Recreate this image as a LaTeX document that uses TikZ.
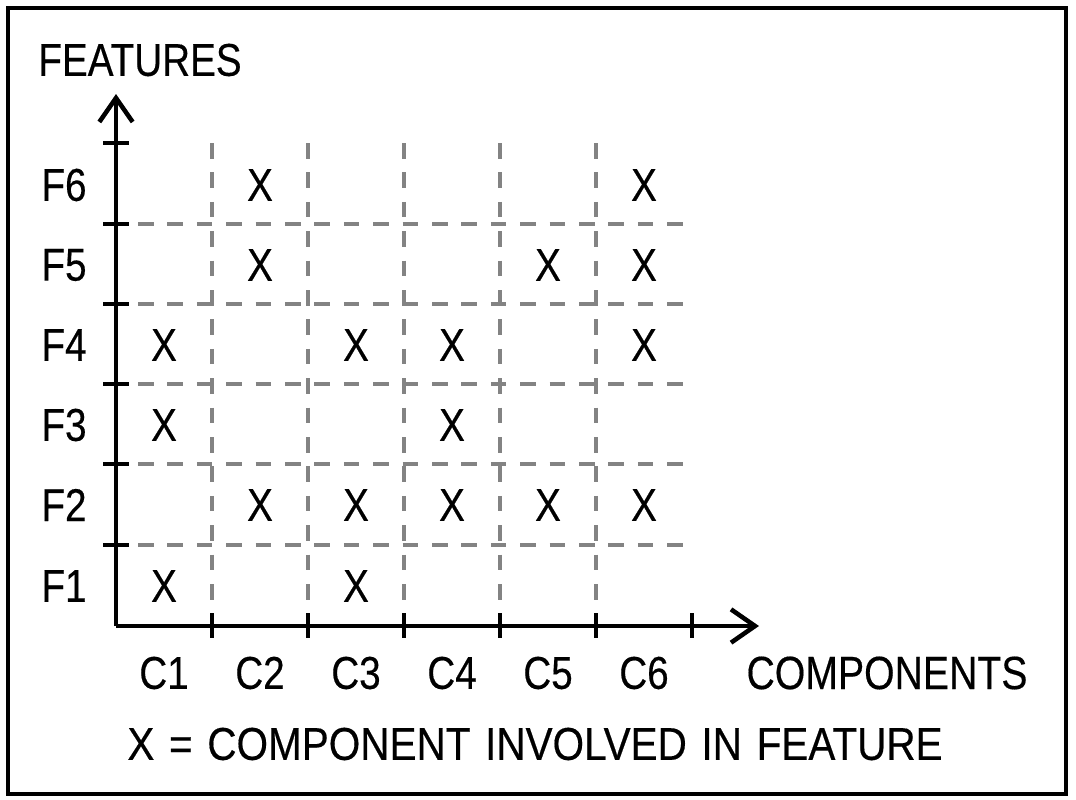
\documentclass[tikz,border=0pt]{standalone}
\usepackage{fontspec}
\setmainfont{Liberation Sans}[FakeStretch=0.84,FakeBold=0.35]
\newfontfamily\legendfont{Liberation Sans}[FakeStretch=0.88,FakeBold=0.35]
\usetikzlibrary{arrows.meta}
\begin{document}
\begin{tikzpicture}[x=0.75pt,y=-0.75pt,
  lbl/.style={inner sep=0pt,font=\fontsize{34.5}{40}\selectfont},
  axis/.style={line width=3.4pt,black},
  tickmark/.style={line width=3pt,black},
  grid/.style={line width=2.9pt,color=gridgray,dash pattern=on 11.7pt off 10.35pt},
  axisarrow/.style={-{Straight Barb[length=18pt,width=25pt]}}]
\definecolor{gridgray}{HTML}{838383}
\useasboundingbox (0,0) rectangle (1076,800);
\draw[line width=3.4pt] (8,8) rectangle (1066,794);
% grid lines
\foreach \x in {212,308,404,500,596} {
  \coordinate (vt\x) at (\x,143);
  \coordinate (vb\x) at (\x,626);
  \draw[grid] (vt\x) -- (vb\x);
}
\foreach \y in {224,304,384,464,545} {
  \coordinate (hl\y) at (138,\y);
  \coordinate (hr\y) at (685,\y);
  \draw[grid] (hl\y) -- (hr\y);
}
% axes
\coordinate (O) at (116,626);
\coordinate (ytip) at (116,94);
\coordinate (xtip) at (759,626);
\draw[axis,axisarrow] (O) -- (ytip);
\draw[axis,axisarrow] (O) -- (xtip);
% ticks
\foreach \y in {143,224,304,384,464,545} {
  \coordinate (tyl\y) at (103,\y);
  \coordinate (tyr\y) at (129,\y);
  \draw[tickmark] (tyl\y) -- (tyr\y);
}
\foreach \x in {212,308,404,500,596,692} {
  \coordinate (txt\x) at (\x,613);
  \coordinate (txb\x) at (\x,638);
  \draw[tickmark] (txt\x) -- (txb\x);
}
% labels
\node[lbl] (features) at (140,60) {FEATURES};
\node[lbl] (f6) at (64,185) {F6};
\node[lbl] (f5) at (64,265) {F5};
\node[lbl] (f4) at (64,345) {F4};
\node[lbl] (f3) at (64,425) {F3};
\node[lbl] (f2) at (64,505) {F2};
\node[lbl] (f1) at (64,586) {F1};
\node[lbl] (c1) at (164,673) {C1};
\node[lbl] (c2) at (260,673) {C2};
\node[lbl] (c3) at (356,673) {C3};
\node[lbl] (c4) at (452,673) {C4};
\node[lbl] (c5) at (548,673) {C5};
\node[lbl] (c6) at (644,673) {C6};
\node[lbl,font=\fontsize{35}{40}\selectfont] (components) at (887,673) {COMPONENTS};
\node[lbl,font=\legendfont\fontsize{34.5}{40}\selectfont] (legend) at (535,744) {\spaceskip=11pt X = COMPONENT INVOLVED IN FEATURE};
% marks
\node[lbl] (x62) at (260,185) {X};
\node[lbl] (x66) at (644,185) {X};
\node[lbl] (x52) at (260,265) {X};
\node[lbl] (x55) at (548,265) {X};
\node[lbl] (x56) at (644,265) {X};
\node[lbl] (x41) at (164,345) {X};
\node[lbl] (x43) at (356,345) {X};
\node[lbl] (x44) at (452,345) {X};
\node[lbl] (x46) at (644,345) {X};
\node[lbl] (x31) at (164,425) {X};
\node[lbl] (x34) at (452,425) {X};
\node[lbl] (x22) at (260,505) {X};
\node[lbl] (x23) at (356,505) {X};
\node[lbl] (x24) at (452,505) {X};
\node[lbl] (x25) at (548,505) {X};
\node[lbl] (x26) at (644,505) {X};
\node[lbl] (x11) at (164,586) {X};
\node[lbl] (x13) at (356,586) {X};
\end{tikzpicture}
\end{document}
